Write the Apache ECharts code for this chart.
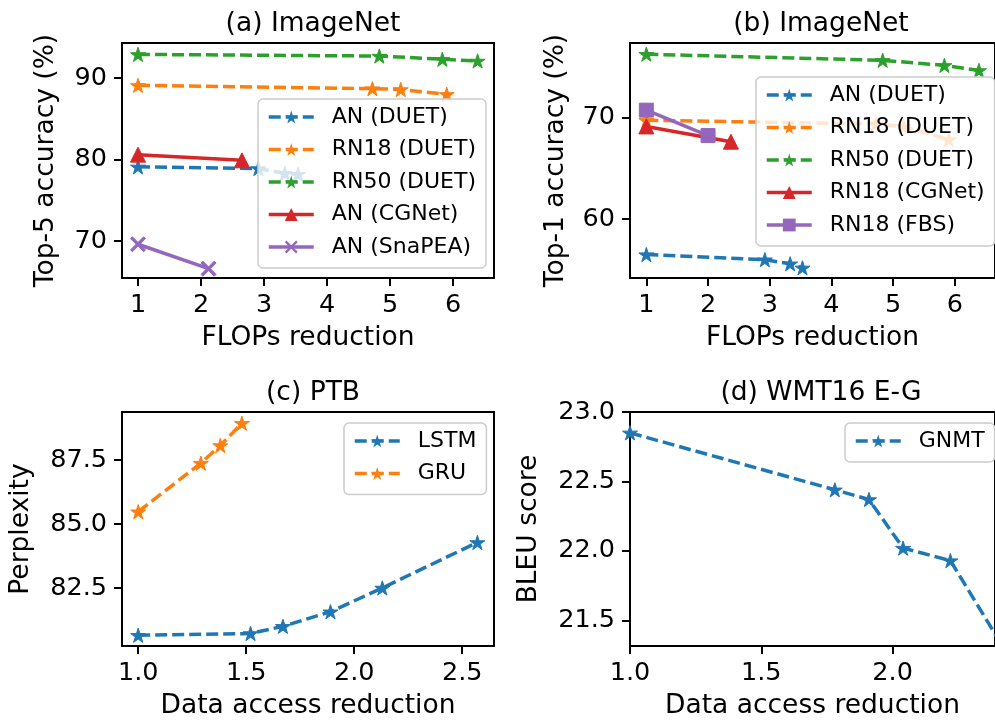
<!DOCTYPE html>
<html>
<head>
<meta charset="utf-8">
<script src="https://cdn.jsdelivr.net/npm/echarts@6/dist/echarts.min.js"></script>
<style>
  html, body { margin: 0; padding: 0; background: #fff; }
  #chart { width: 995px; height: 721px; }
</style>
</head>
<body>
<div id="chart"></div>
<script>
// (a) ImageNet, top-5
var aAnDuetX = [1, 2.91, 3.33, 3.54];
var aAnDuetY = [79.1, 78.9, 78.3, 78.2];
var aRn18DuetX = [1, 4.72, 5.17, 5.9];
var aRn18DuetY = [89.1, 88.7, 88.6, 88.0];
var aRn50DuetX = [1, 4.83, 5.83, 6.39];
var aRn50DuetY = [92.9, 92.7, 92.3, 92.1];
var aCgnetX = [1, 2.65];
var aCgnetY = [80.6, 79.9];
var aSnapeaX = [1, 2.12];
var aSnapeaY = [69.6, 66.6];

// (b) ImageNet, top-1
var bAnDuetX = [1, 2.92, 3.33, 3.53];
var bAnDuetY = [56.5, 56.0, 55.6, 55.2];
var bRn18DuetX = [1, 4.72, 5.17, 5.9];
var bRn18DuetY = [69.7, 69.35, 69.1, 67.8];
var bRn50DuetX = [1, 4.83, 5.83, 6.39];
var bRn50DuetY = [76.2, 75.6, 75.1, 74.6];
var bCgnetX = [1, 2.37];
var bCgnetY = [69.1, 67.6];
var bFbsX = [1, 2.0];
var bFbsY = [70.7, 68.2];

// (c) PTB
var cLstmX = [1, 1.52, 1.67, 1.89, 2.13, 2.57];
var cLstmY = [80.65, 80.72, 81.0, 81.57, 82.5, 84.28];
var cGruX = [1, 1.29, 1.38, 1.48];
var cGruY = [85.48, 87.38, 88.07, 88.94];

// (d) WMT16 E-G
var dGnmtX = [1, 1.78, 1.91, 2.04, 2.22, 2.41];
var dGnmtY = [22.85, 22.44, 22.37, 22.02, 21.93, 21.34];

// tick labels
var flopsTicks = [1, 2, 3, 4, 5, 6];
var aYTicks = [70, 80, 90];
var bYTicks = [60, 70];
var cXTicks = [1.0, 1.5, 2.0, 2.5];
var cYTicks = [82.5, 85.0, 87.5];
var dXTicks = [1.0, 1.5, 2.0];
var dYTicks = [21.5, 22.0, 22.5, 23.0];

var BLUE = '#1f77b4', ORANGE = '#ff7f0e', GREEN = '#2ca02c', RED = '#d62728', PURPLE = '#9467bd';
var STAR = 'path://M0,-100L22.45,-30.9L95.11,-30.9L36.33,11.8L58.78,80.9L0,38.2L-58.78,80.9L-36.33,11.8L-95.11,-30.9L-22.45,-30.9Z';
var CROSS = 'path://M-85.86,-114.14L114.14,85.86L85.86,114.14L-114.14,-85.86ZM-114.14,85.86L85.86,-114.14L114.14,-85.86L-85.86,114.14Z';
var FONT = 'DejaVu Sans';

function pairs(xs, ys) {
  return xs.map(function (x, i) { return [x, ys[i]]; });
}

function line(name, idx, xs, ys, color, symbol, size, dashed) {
  return {
    name: name,
    type: 'line',
    xAxisIndex: idx,
    yAxisIndex: idx,
    data: pairs(xs, ys),
    symbol: symbol,
    symbolSize: size,
    symbolKeepAspect: true,
    showAllSymbol: true,
    clip: true,
    animation: false,
    lineStyle: { color: color, width: 3.5, type: dashed ? [12, 5] : 'solid' },
    itemStyle: { color: color, borderColor: color, borderWidth: 1 },
    emphasis: { disabled: true }
  };
}

var grids = [
  { left: 122, top: 43, width: 372, height: 235 },
  { left: 630, top: 43, width: 372, height: 235 },
  { left: 122, top: 412, width: 372, height: 235 },
  { left: 630, top: 412, width: 372, height: 235 }
];
grids.forEach(function (g) {
  g.show = true;
  g.borderColor = '#000';
  g.borderWidth = 2;
  g.backgroundColor = 'transparent';
});

function xAxis(idx, min, max, ticks, name, dec) {
  return {
    type: 'value', gridIndex: idx, min: min, max: max,
    name: name, nameLocation: 'middle', nameGap: 47,
    nameTextStyle: { fontFamily: FONT, fontSize: 26.5, color: '#000' },
    axisLine: { show: true, lineStyle: { color: '#000', width: 2 } },
    axisTick: { show: true, length: 8, lineStyle: { color: '#000', width: 2 }, customValues: ticks },
    axisLabel: {
      fontFamily: FONT, fontSize: 25.5, color: '#000', margin: 14, customValues: ticks,
      formatter: function (v) { return dec ? v.toFixed(1) : String(v); }
    },
    splitLine: { show: false }
  };
}

function yAxis(idx, min, max, ticks, name, gap, dec) {
  return {
    type: 'value', gridIndex: idx, min: min, max: max,
    name: name, nameLocation: 'middle', nameGap: gap,
    nameTextStyle: { fontFamily: FONT, fontSize: 26.5, color: '#000' },
    axisLine: { show: true, lineStyle: { color: '#000', width: 2 } },
    axisTick: { show: true, length: 8, lineStyle: { color: '#000', width: 2 }, customValues: ticks },
    axisLabel: {
      fontFamily: FONT, fontSize: 25.5, color: '#000', margin: 15, customValues: ticks,
      formatter: function (v) { return dec ? v.toFixed(1) : String(v); }
    },
    splitLine: { show: false }
  };
}

function legend(left, top, names) {
  return {
    orient: 'vertical', left: left, top: top, data: names,
    itemWidth: 45, itemHeight: 16, itemGap: 10.5,
    padding: [7, 10, 10, 9],
    backgroundColor: 'rgba(255,255,255,0.8)',
    borderColor: '#cccccc', borderWidth: 1.5, borderRadius: 5,
    selectedMode: false,
    lineStyle: { width: 3.5 },
    itemStyle: { borderWidth: 0 },
    textStyle: { fontFamily: FONT, fontSize: 22, color: '#000', padding: [0, 0, 0, 13] }
  };
}

function title(text, x, top) {
  return {
    text: text, left: x, top: top, textAlign: 'center',
    textStyle: { fontFamily: FONT, fontSize: 26.5, fontWeight: 'normal', color: '#000' }
  };
}

var option = {
  backgroundColor: '#fff',
  animation: false,
  title: [
    title('(a) ImageNet', 308, 6),
    title('(b) ImageNet', 816, 6),
    title('(c) PTB', 308, 375),
    title('(d) WMT16 E-G', 816, 375)
  ],
  grid: grids,
  xAxis: [
    xAxis(0, 0.746, 6.65, flopsTicks, 'FLOPs reduction', false),
    xAxis(1, 0.735, 6.65, flopsTicks, 'FLOPs reduction', false),
    xAxis(2, 0.925, 2.647, cXTicks, 'Data access reduction', true),
    xAxis(3, 1.0, 2.39, dXTicks, 'Data access reduction', true)
  ],
  yAxis: [
    yAxis(0, 65.46, 94.3, aYTicks, 'Top-5 accuracy (%)', 62, false),
    yAxis(1, 54.2, 77.3, bYTicks, 'Top-1 accuracy (%)', 60, false),
    yAxis(2, 80.23, 89.38, cYTicks, 'Perplexity', 87, true),
    yAxis(3, 21.315, 23.0, dYTicks, 'BLEU score', 87, true)
  ],
  legend: [
    legend(258, 99, ['AN (DUET)', 'RN18 (DUET)', 'RN50 (DUET)', 'AN (CGNet)', 'AN (SnaPEA)']),
    legend(756, 77, ['AN (DUET)', 'RN18 (DUET)', 'RN50 (DUET)', 'RN18 (CGNet)', 'RN18 (FBS)']),
    legend(344, 423, ['LSTM', 'GRU']),
    legend(845, 423, ['GNMT'])
  ],
  series: [
    line('AN (DUET)', 0, aAnDuetX, aAnDuetY, BLUE, STAR, 15, true),
    line('RN18 (DUET)', 0, aRn18DuetX, aRn18DuetY, ORANGE, STAR, 15, true),
    line('RN50 (DUET)', 0, aRn50DuetX, aRn50DuetY, GREEN, STAR, 15, true),
    line('AN (CGNet)', 0, aCgnetX, aCgnetY, RED, 'triangle', 15, false),
    line('AN (SnaPEA)', 0, aSnapeaX, aSnapeaY, PURPLE, CROSS, 15, false),

    line('AN (DUET)', 1, bAnDuetX, bAnDuetY, BLUE, STAR, 15, true),
    line('RN18 (DUET)', 1, bRn18DuetX, bRn18DuetY, ORANGE, STAR, 15, true),
    line('RN50 (DUET)', 1, bRn50DuetX, bRn50DuetY, GREEN, STAR, 15, true),
    line('RN18 (CGNet)', 1, bCgnetX, bCgnetY, RED, 'triangle', 15, false),
    line('RN18 (FBS)', 1, bFbsX, bFbsY, PURPLE, 'rect', 14, false),

    line('LSTM', 2, cLstmX, cLstmY, BLUE, STAR, 15, true),
    line('GRU', 2, cGruX, cGruY, ORANGE, STAR, 15, true),

    line('GNMT', 3, dGnmtX, dGnmtY, BLUE, STAR, 15, true)
  ]
};

var chart = echarts.init(document.getElementById('chart'));
chart.setOption(option);
</script>
</body>
</html>
